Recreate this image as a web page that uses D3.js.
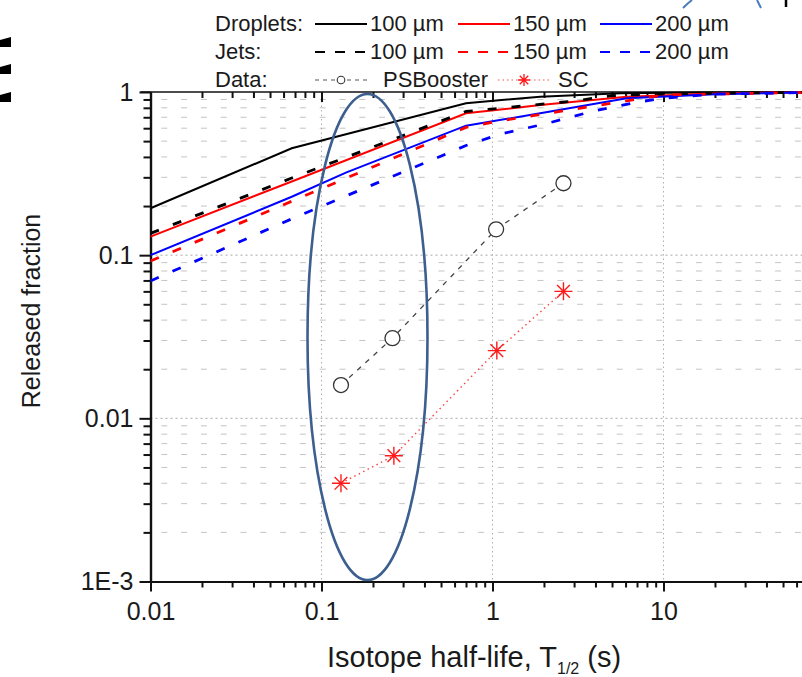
<!DOCTYPE html>
<html>
<head>
<meta charset="utf-8">
<script src="https://cdn.jsdelivr.net/npm/d3@7"></script>
<style>
    body { margin: 0; background: #fff; }
    svg { display: block; font-family: "Liberation Sans", Arial, sans-serif; }
</style>
</head>
<body>
<div id="ground"></div>
<script>
// half-life T1/2 (s) and released fraction
const dropT100 = [0.01, 0.067, 0.7, 1.9, 5.6, 16, 100];
const drop100 = [0.194, 0.452, 0.853, 0.936, 0.982, 0.993, 1.0];
const dropT150 = [0.01, 0.067, 0.7, 1.9, 6.1, 20, 100];
const drop150 = [0.13, 0.283, 0.74, 0.832, 0.936, 0.98, 1.0];
const dropT200 = [0.01, 0.067, 0.14, 0.7, 1.9, 6.1, 20, 100];
const drop200 = [0.1, 0.228, 0.322, 0.622, 0.74, 0.915, 0.97, 1.0];

const jetT100 = [0.01, 0.067, 0.7, 1.5, 3, 5, 10, 100];
const jet100 = [0.136, 0.297, 0.76, 0.82, 0.88, 0.95, 0.975, 1.0];
const jetT150 = [0.01, 0.067, 0.7, 1.1, 2.1, 3.7, 10, 100];
const jet150 = [0.092, 0.214, 0.607, 0.664, 0.74, 0.813, 0.96, 1.0];
const jetT200 = [0.01, 0.067, 0.7, 1.1, 2.1, 3.9, 7.3, 10, 20, 100];
const jet200 = [0.0695, 0.167, 0.47, 0.551, 0.643, 0.765, 0.872, 0.915, 0.97, 1.0];

const psT = [0.13, 0.26, 1.05, 2.6];
const psVal = [0.016, 0.031, 0.144, 0.276];
const scT = [0.13, 0.265, 1.06, 2.6];
const scVal = [0.004, 0.0059, 0.026, 0.060];

const xTicks = [0.01, 0.1, 1, 10];
const xTickLabels = ["0.01", "0.1", "1", "10"];
const yTicks = [0.001, 0.01, 0.1, 1];
const yTickLabels = ["1E-3", "0.01", "0.1", "1"];

document.addEventListener("DOMContentLoaded", function () {

    const width = 802, height = 677,
        left = 150.5, right = 834.5,
        top = 92, bottom = 581.5;

    let x = d3.scaleLog().domain([0.01, 100]).range([left, right]);
    let y = d3.scaleLog().domain([0.001, 1]).range([bottom, top]);

    let minors = function (lo, hi) {
        let out = [];
        for (let d = lo; d < hi * 0.999; d *= 10) {
            for (let k = 2; k <= 9; k++) out.push(+(k * d).toPrecision(3));
        }
        return out;
    };
    const xMinor = minors(0.01, 100), yMinor = minors(0.001, 1);

    let svg = d3.select("#ground")
        .append("svg")
        .attr("width", width)
        .attr("height", height);

    svg.append("defs").append("clipPath").attr("id", "plot")
        .append("rect")
        .attr("x", left).attr("y", top - 4)
        .attr("width", right - left + 4).attr("height", bottom - top + 4);

    // grid
    let grid = svg.append("g");
    grid.selectAll(".ymin").data(yMinor).enter().append("line")
        .attr("x1", left).attr("x2", right)
        .attr("y1", d => y(d)).attr("y2", d => y(d))
        .attr("stroke", "#c4c4c4").attr("stroke-width", 1)
        .attr("stroke-dasharray", "6,13.8").attr("stroke-dashoffset", 9);
    grid.selectAll(".ymaj").data([0.01, 0.1]).enter().append("line")
        .attr("x1", left).attr("x2", right)
        .attr("y1", d => y(d)).attr("y2", d => y(d))
        .attr("stroke", "#a8a8a8").attr("stroke-width", 1)
        .attr("stroke-dasharray", "2,3");
    grid.selectAll(".xmaj").data([0.1, 1, 10]).enter().append("line")
        .attr("x1", d => x(d)).attr("x2", d => x(d))
        .attr("y1", top).attr("y2", bottom)
        .attr("stroke", "#b0b0b0").attr("stroke-width", 1)
        .attr("stroke-dasharray", "1.5,3");

    // axes
    let styleAxis = function (g, w) {
        g.selectAll(".domain").attr("stroke", "#111").attr("stroke-width", w);
        g.selectAll(".tick line").attr("stroke", "#111").attr("stroke-width", 2);
        g.selectAll("text").attr("font-size", 25).attr("fill", "#1a1a1a")
            .attr("font-family", "\"Liberation Sans\", Arial, sans-serif");
    };

    let gx = svg.append("g").attr("transform", "translate(0," + bottom + ")");
    gx.call(d3.axisBottom(x).tickValues(xTicks).tickSize(10).tickSizeOuter(0)
        .tickPadding(11).tickFormat((d, i) => xTickLabels[i]));
    gx.append("g").call(d3.axisBottom(x).tickValues(xMinor).tickSize(6).tickFormat(""))
        .call(g => g.select(".domain").remove());
    styleAxis(gx, 2.2);

    let gt = svg.append("g").attr("transform", "translate(0," + top + ")");
    gt.call(d3.axisBottom(x).tickValues(xTicks).tickSize(10).tickSizeOuter(0).tickFormat(""));
    gt.append("g").call(d3.axisBottom(x).tickValues(xMinor).tickSize(6).tickFormat(""))
        .call(g => g.select(".domain").remove());
    styleAxis(gt, 1.6);
    gt.select(".domain").attr("d", "M" + (left - 10) + ",0H" + right);

    let gy = svg.append("g").attr("transform", "translate(" + left + ",0)");
    gy.call(d3.axisLeft(y).tickValues(yTicks).tickSize(11).tickSizeOuter(0)
        .tickPadding(6).tickFormat((d, i) => yTickLabels[i]));
    gy.append("g").call(d3.axisLeft(y).tickValues(yMinor).tickSize(7).tickFormat(""))
        .call(g => g.select(".domain").remove());
    styleAxis(gy, 2.4);

    // curves
    let mapping = d3.line()
        .x(d => x(d[0]))
        .y(d => y(d[1]))
        .curve(d3.curveLinear);

    const curves = [
        {t: dropT100, v: drop100, color: "#000000", dash: null},
        {t: dropT150, v: drop150, color: "#ff0000", dash: null},
        {t: dropT200, v: drop200, color: "#0000ff", dash: null},
        {t: jetT100, v: jet100, color: "#000000", dash: "9,15"},
        {t: jetT150, v: jet150, color: "#ff0000", dash: "9,15"},
        {t: jetT200, v: jet200, color: "#0000ff", dash: "9,15"}
    ];

    let plot = svg.append("g").attr("clip-path", "url(#plot)");
    curves.forEach(function (c) {
        plot.append("path")
            .attr("d", mapping(d3.zip(c.t, c.v)))
            .attr("fill", "none")
            .attr("stroke", c.color)
            .attr("stroke-width", c.dash ? 2.8 : 2)
            .attr("stroke-dasharray", c.dash);
    });

    let star = function (r) {
        let a = r * 0.7071;
        return "M" + (-r) + ",0L" + r + ",0M0," + (-r) + "L0," + r +
            "M" + (-a) + "," + (-a) + "L" + a + "," + a +
            "M" + (-a) + "," + a + "L" + a + "," + (-a);
    };

    // measured data
    plot.append("path")
        .attr("d", mapping(d3.zip(scT, scVal)))
        .attr("fill", "none").attr("stroke", "#ff4040").attr("stroke-width", 1.4)
        .attr("stroke-dasharray", "1.5,3.5");
    plot.selectAll(".sc").data(d3.zip(scT, scVal)).enter().append("path")
        .attr("transform", d => "translate(" + x(d[0]) + "," + y(d[1]) + ")")
        .attr("d", star(9))
        .attr("stroke", "#ff1a1a").attr("stroke-width", 1.4);

    plot.append("path")
        .attr("d", mapping(d3.zip(psT, psVal)))
        .attr("fill", "none").attr("stroke", "#444").attr("stroke-width", 1.3)
        .attr("stroke-dasharray", "5,6");
    plot.selectAll(".ps").data(d3.zip(psT, psVal)).enter().append("circle")
        .attr("cx", d => x(d[0])).attr("cy", d => y(d[1])).attr("r", 7.5)
        .attr("fill", "#fff").attr("stroke", "#333").attr("stroke-width", 1.3);

    // axis titles
    svg.append("text")
        .attr("transform", "translate(40,311) rotate(-90)")
        .attr("text-anchor", "middle")
        .attr("font-size", 25).attr("fill", "#1a1a1a")
        .text("Released fraction");

    let xt = svg.append("text")
        .attr("x", 327).attr("y", 667)
        .attr("font-size", 29).attr("fill", "#1a1a1a")
        .text("Isotope half-life, T");
    xt.append("tspan").attr("font-size", 16).attr("dy", 7).text("1/2");
    xt.append("tspan").attr("dy", -7).text(" (s)");

    // legend
    let legend = svg.append("g").attr("font-size", 22).attr("fill", "#1a1a1a");
    const rows = [
        {label: "Droplets:", base: 31, dash: null},
        {label: "Jets:", base: 59, dash: "10,10"}
    ];
    const sizes = [
        {text: "100 µm", color: "#000000", x1: 315},
        {text: "150 µm", color: "#ff0000", x1: 458},
        {text: "200 µm", color: "#0000ff", x1: 600}
    ];
    rows.forEach(function (r) {
        legend.append("text").attr("x", 215).attr("y", r.base).text(r.label);
        sizes.forEach(function (s) {
            legend.append("line")
                .attr("x1", s.x1).attr("x2", s.x1 + 52)
                .attr("y1", r.base - 7).attr("y2", r.base - 7)
                .attr("stroke", s.color).attr("stroke-width", 2)
                .attr("stroke-dasharray", r.dash);
            legend.append("text").attr("x", s.x1 + 55).attr("y", r.base).text(s.text);
        });
    });
    legend.append("text").attr("x", 215).attr("y", 87).text("Data:");
    legend.append("line").attr("x1", 315).attr("x2", 367).attr("y1", 80).attr("y2", 80)
        .attr("stroke", "#555").attr("stroke-width", 1.2).attr("stroke-dasharray", "4,4");
    legend.append("circle").attr("cx", 341).attr("cy", 80).attr("r", 3.8)
        .attr("fill", "#fff").attr("stroke", "#333").attr("stroke-width", 1.1);
    legend.append("text").attr("x", 383).attr("y", 87).text("PSBooster");
    legend.append("line").attr("x1", 498).attr("x2", 550).attr("y1", 80).attr("y2", 80)
        .attr("stroke", "#ff5050").attr("stroke-width", 1.2).attr("stroke-dasharray", "1.5,3");
    legend.append("path").attr("transform", "translate(524,80)").attr("d", star(6))
        .attr("stroke", "#ff1a1a").attr("stroke-width", 1.3);
    legend.append("text").attr("x", 558).attr("y", 87).text("SC");

    // annotation ellipse
    svg.append("ellipse")
        .attr("cx", 367.5).attr("cy", 337).attr("rx", 60).attr("ry", 243)
        .attr("fill", "none").attr("stroke", "#3d5f8f").attr("stroke-width", 2.6);

    // pieces of neighbouring panels cut by the crop
    let edge = svg.append("g");
    [37, 64, 92].forEach(function (yy) {
        edge.append("path")
            .attr("d", "M0," + (yy + 3) + "L11," + yy + "V" + (yy + 10) + "H0Z")
            .attr("fill", "#000");
    });
    edge.append("path").attr("d", "M683,8Q688,3 692,0M757,0Q759,4 761,8")
        .attr("fill", "none").attr("stroke", "#4a7cc0").attr("stroke-width", 2);
    edge.append("line").attr("x1", 786).attr("x2", 786).attr("y1", 0).attr("y2", 7)
        .attr("stroke", "#000").attr("stroke-width", 2.5);

});
</script>
</body>
</html>
